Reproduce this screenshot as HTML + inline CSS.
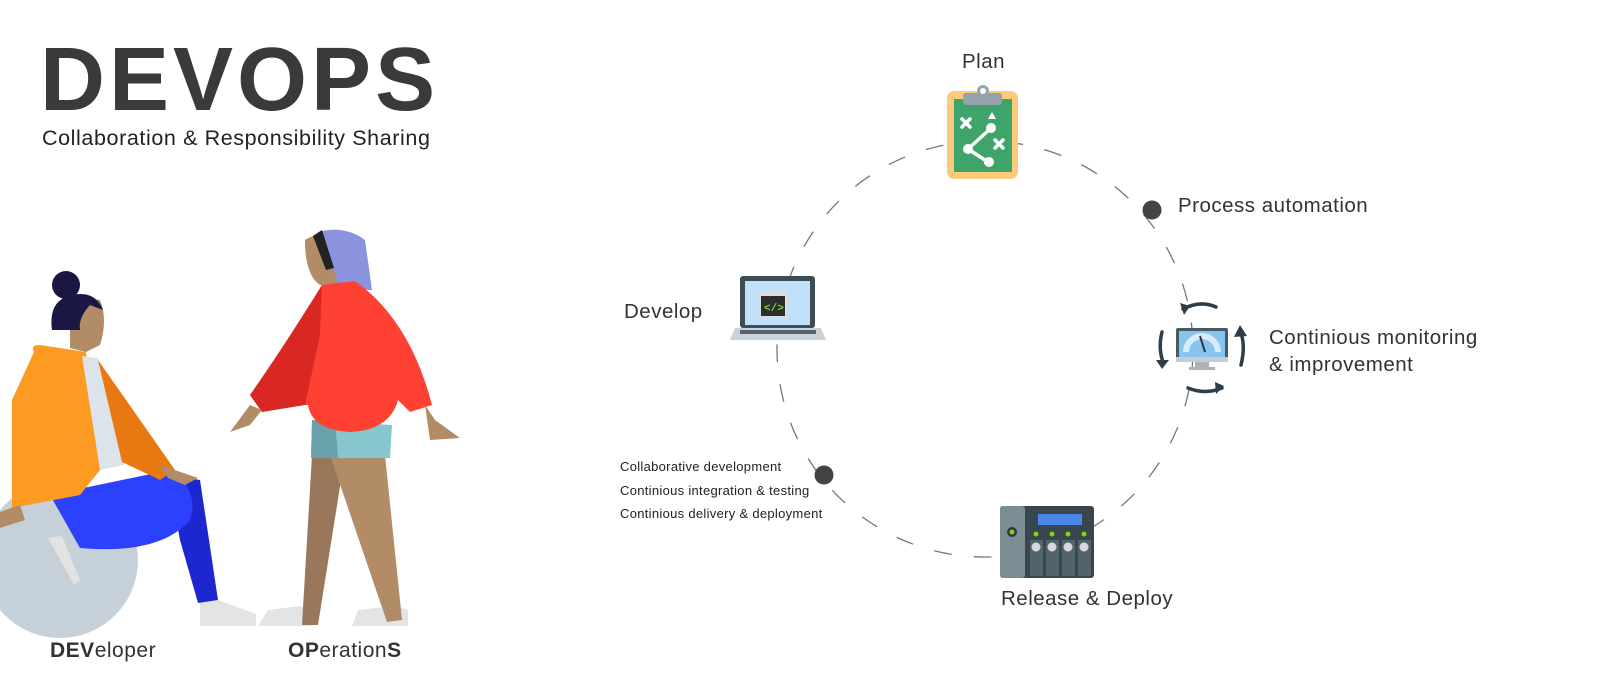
<!DOCTYPE html>
<html><head><meta charset="utf-8"><style>
html,body{margin:0;padding:0;background:#fff;}
body{width:1600px;height:693px;position:relative;overflow:hidden;font-family:"Liberation Sans",sans-serif;color:#333;}
.t{position:absolute;white-space:nowrap;}
.l{font-size:20.5px;letter-spacing:0.5px;}
</style></head><body>
<svg width="1600" height="693" style="position:absolute;left:0;top:0">
<circle cx="985" cy="349" r="208" fill="none" stroke="#777" stroke-width="1.3" stroke-dasharray="18 22"/>
<circle cx="1152" cy="210" r="9.5" fill="#444"/>
<circle cx="824" cy="475" r="9.5" fill="#444"/>
<rect x="947" y="91" width="71" height="88" rx="7" fill="#fec97a"/>
<rect x="954" y="99" width="58" height="73" fill="#3fa46a"/>
<rect x="963" y="93" width="39" height="12" rx="3" fill="#95a3ad"/>
<circle cx="983" cy="91" r="6" fill="#95a3ad"/><circle cx="983" cy="91" r="3" fill="#fff"/>
<g stroke="#fff" stroke-width="3.5" stroke-linecap="round">
<line x1="962" y1="119" x2="970" y2="127"/><line x1="970" y1="119" x2="962" y2="127"/>
<line x1="995" y1="140" x2="1003" y2="148"/><line x1="1003" y1="140" x2="995" y2="148"/>
<line x1="968" y1="149" x2="990" y2="129"/><line x1="968" y1="149" x2="988" y2="162"/></g>
<circle cx="968" cy="149" r="5" fill="#fff"/><circle cx="991" cy="128" r="5" fill="#fff"/><circle cx="989" cy="162" r="5" fill="#fff"/>
<polygon points="992,112 988,119 996,119" fill="#fff"/>
<rect x="740" y="276" width="75" height="52" rx="3" fill="#3c4d57"/>
<rect x="745" y="281" width="65" height="44" fill="#bfe0f7"/>
<rect x="759" y="291" width="28" height="27" fill="#ddd"/>
<rect x="761" y="296" width="24" height="20" fill="#2b2e31"/>
<text x="764" y="311" font-size="11" font-weight="bold" fill="#7ed321" font-family="Liberation Mono">&lt;/&gt;</text>
<path d="M735 328 H821 L826 340 H730 Z" fill="#c8d2d8"/>
<rect x="740" y="330" width="76" height="4" fill="#536570"/>
<rect x="1176" y="328" width="52" height="34" rx="2" fill="#4a5a63"/>
<rect x="1179" y="331" width="46" height="26" fill="#88c4f0"/>
<path d="M1186 352 A16 16 0 0 1 1218 352" fill="none" stroke="#d8ecfa" stroke-width="6"/>
<line x1="1200" y1="336" x2="1205" y2="352" stroke="#333" stroke-width="2"/>
<rect x="1176" y="357" width="52" height="5" fill="#c5ccd1"/>
<rect x="1195" y="362" width="14" height="6" fill="#aab3b9"/><rect x="1189" y="367" width="26" height="3" fill="#aab3b9"/>
<g fill="none" stroke="#2e3d48" stroke-width="3.5" stroke-linecap="round">
<path d="M1183 309 Q1200 300 1216 307"/><path d="M1162 332 Q1158 348 1163 362"/>
<path d="M1188 388 Q1205 395 1222 388"/><path d="M1240 330 Q1246 345 1241 365"/></g>
<g fill="#2e3d48"><polygon points="1180,303 1190,306 1184,315"/><polygon points="1156,360 1169,360 1162,369"/><polygon points="1224,386 1215,382 1216,394"/><polygon points="1240,325 1234,337 1247,336"/></g>
<rect x="1000" y="506" width="94" height="72" rx="3" fill="#37464f"/>
<rect x="1000" y="506" width="25" height="72" rx="3" fill="#7c8d96"/>
<circle cx="1012" cy="532" r="5" fill="#2e3a40"/><circle cx="1012" cy="532" r="2.5" fill="#7ed321"/>
<rect x="1038" y="514" width="44" height="11" fill="#4a86e8"/>
<g fill="#52636c"><rect x="1030" y="540" width="13" height="36"/><rect x="1046" y="540" width="13" height="36"/><rect x="1062" y="540" width="13" height="36"/><rect x="1078" y="540" width="13" height="36"/></g>
<g fill="#7ed321"><circle cx="1036" cy="534" r="2.5"/><circle cx="1052" cy="534" r="2.5"/><circle cx="1068" cy="534" r="2.5"/><circle cx="1084" cy="534" r="2.5"/></g>
<g fill="#d5d9dc"><circle cx="1036" cy="547" r="4.5"/><circle cx="1052" cy="547" r="4.5"/><circle cx="1068" cy="547" r="4.5"/><circle cx="1084" cy="547" r="4.5"/></g>
<circle cx="60" cy="560" r="78" fill="#c5d0d8"/>
<path d="M200 600 L218 600 L256 614 L256 626 L200 626 Z" fill="#e4e4e4"/>
<path d="M168 475 L200 480 L218 600 L198 603 L180 540 Z" fill="#1d27d0"/>
<path d="M50 495 L170 470 Q200 490 190 520 Q160 555 80 548 Z" fill="#2c41fe"/>
<path d="M48 538 L62 536 L80 580 L74 585 Z" fill="#e2e2e2"/>
<path d="M34 352 Q30 345 40 345 L86 352 L100 470 L80 495 L12 508 L12 400 Z" fill="#fc9a21"/>
<path d="M82 356 L98 358 L124 465 L100 470 Z" fill="#dde3ea"/>
<path d="M98 360 L175 470 L160 480 L122 462 Z" fill="#e87812"/>
<path d="M160 465 L198 478 L185 485 L168 478 Z" fill="#b28b67"/>
<path d="M0 512 L20 505 L25 520 L0 528 Z" fill="#b28b67"/>
<path d="M70 320 Q75 295 100 300 Q108 320 100 345 L86 352 L70 348 Z" fill="#b28b67"/>
<circle cx="66" cy="285" r="14" fill="#1a1744"/>
<path d="M52 330 Q48 300 72 295 Q95 290 103 310 L90 305 Q78 318 80 330 Z" fill="#1a1744"/>
<path d="M268 610 L300 606 L313 610 L313 626 L258 626 Z" fill="#e4e4e4"/>
<path d="M358 610 L396 606 L408 610 L408 626 L352 626 Z" fill="#e4e4e4"/>
<path d="M312 455 L345 455 L318 625 L302 625 Z" fill="#9a775a"/>
<path d="M330 455 L385 455 L402 620 L387 622 Z" fill="#b28b67"/>
<path d="M312 420 L392 425 L390 458 L311 458 Z" fill="#88c6cd"/>
<path d="M312 420 L335 420 L338 458 L311 458 Z" fill="#68a3ad"/>
<path d="M305 240 Q320 230 335 240 L340 285 L320 285 Q305 275 305 240 Z" fill="#b28b67"/>
<path d="M318 232 Q345 225 365 240 L372 290 L340 290 Q330 255 318 232 Z" fill="#8b93de"/>
<path d="M313 236 L322 230 L334 268 L326 270 Z" fill="#222"/>
<path d="M322 285 L355 281 Q410 320 432 405 L410 412 L398 400 Q390 430 350 432 Q312 430 308 405 L300 405 L262 412 L250 395 Q285 345 322 285 Z" fill="#ff4133"/>
<path d="M322 285 L320 335 L305 405 L262 412 L250 395 Q285 345 322 285 Z" fill="#d92723"/>
<path d="M250 405 L262 410 L250 425 L230 432 Z" fill="#b28b67"/>
<path d="M425 405 L435 420 L460 438 L430 440 Z" fill="#b28b67"/>
</svg>
<div class="t" style="left:40px;top:29px;font-size:90px;font-weight:bold;color:#3a3a3a;letter-spacing:4px;">DEVOPS</div>
<div class="t" style="left:42px;top:126px;font-size:21.5px;color:#222;letter-spacing:0.6px;">Collaboration &amp; Responsibility Sharing</div>
<div class="t" style="left:50px;top:639px;font-size:21px;color:#333;letter-spacing:0.5px;"><b>DEV</b>eloper</div>
<div class="t" style="left:288px;top:639px;font-size:21px;color:#333;letter-spacing:0.5px;"><b>OP</b>eration<b>S</b></div>
<div class="t l" style="left:962px;top:50px;">Plan</div>
<div class="t l" style="left:1178px;top:194px;">Process automation</div>
<div class="t l" style="left:624px;top:300px;">Develop</div>
<div class="t l" style="left:1269px;top:324px;line-height:27px;">Continious monitoring<br>&amp; improvement</div>
<div class="t l" style="left:1001px;top:587px;">Release &amp; Deploy</div>
<div class="t" style="left:620px;top:455px;font-size:13px;line-height:23.5px;color:#222;letter-spacing:0.3px;">Collaborative development<br>Continious integration &amp; testing<br>Continious delivery &amp; deployment</div>
</body></html>
